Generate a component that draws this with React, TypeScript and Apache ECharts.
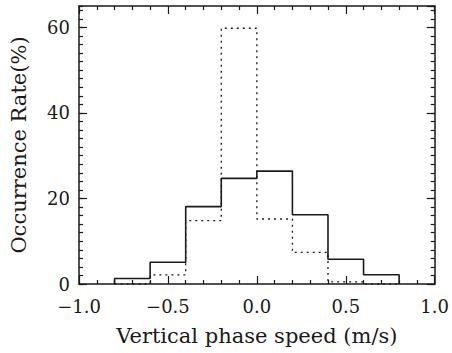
import React, { useEffect, useRef } from "react";
import * as echarts from "echarts";

const binEdges = [-0.8, -0.6, -0.4, -0.2, 0.0, 0.2, 0.4, 0.6, 0.8];
const solidRates = [1.3, 5.1, 18.1, 24.7, 26.4, 16.2, 5.8, 2.15];
const dottedRates = [0, 2.15, 14.8, 59.8, 15.2, 7.4, 0.5, 0];
const xTicks = [-1.0, -0.5, 0.0, 0.5, 1.0];
const yTicks = [0, 20, 40, 60];

function stepData(rates: number[]) {
  const pts: number[][] = [[binEdges[0], 0]];
  rates.forEach((v, i) => pts.push([binEdges[i + 1], v]));
  pts.push([binEdges[binEdges.length - 1], 0]);
  return pts;
}

const FONT = "DejaVu Serif";
const INK = "#1a1a1a";

export default function App() {
  const ref = useRef<HTMLDivElement>(null);
  useEffect(() => {
    if (!ref.current) return;
    const chart = echarts.init(ref.current, undefined, { renderer: "svg" });
    const axisLine = { show: true, onZero: false, lineStyle: { color: INK, width: 1.5 } };
    const noLine = { show: false, onZero: false };
    const fmtX = (v: number) => {
      if (!xTicks.some((t) => Math.abs(t - v) < 1e-9)) return "";
      const s = Math.abs(v).toFixed(1);
      return v < -1e-9 ? "\u2212" + s : s;
    };
    const fmtY = (v: number) => (yTicks.includes(v) ? String(v) : "");
    const yBase = { type: "value", min: 0, max: 65, splitLine: { show: false } };
    chart.setOption({
      animation: false,
      backgroundColor: "#ffffff",
      grid: { left: 78, right: 15, top: 6, bottom: 69 },
      xAxis: [
        {
          type: "value",
          position: "bottom",
          min: -1,
          max: 1,
          interval: 0.5,
          axisLine,
          axisTick: { show: true, inside: true, length: 8, lineStyle: { color: INK, width: 1.2 } },
          minorTick: { show: true, splitNumber: 5, length: 4, lineStyle: { color: INK, width: 1.2 } },
          splitLine: { show: false },
          minorSplitLine: { show: false },
          axisLabel: { formatter: fmtX, fontFamily: FONT, fontSize: 18, color: INK, margin: 13 },
          name: "Vertical phase speed (m/s)",
          nameLocation: "middle",
          nameGap: 41,
          nameTextStyle: { fontFamily: FONT, fontSize: 21, color: INK },
        },
        {
          type: "value",
          position: "top",
          min: -1,
          max: 1,
          interval: 0.5,
          axisLine,
          axisTick: { show: true, inside: true, length: 8, lineStyle: { color: INK, width: 1.2 } },
          minorTick: { show: true, splitNumber: 5, length: 4, lineStyle: { color: INK, width: 1.2 } },
          splitLine: { show: false },
          axisLabel: { show: false },
        },
      ],
      yAxis: [
        {
          ...yBase,
          position: "left",
          interval: 20,
          axisLine,
          axisTick: { show: true, inside: true, length: 8, lineStyle: { color: INK, width: 1.2 } },
          axisLabel: { formatter: fmtY, fontFamily: FONT, fontSize: 18, color: INK, margin: 9, showMaxLabel: false },
          name: "Occurrence Rate(%)",
          nameLocation: "middle",
          nameGap: 50,
          nameRotate: 90,
          nameTextStyle: { fontFamily: FONT, fontSize: 21, color: INK },
        },
        {
          ...yBase,
          position: "left",
          interval: 2,
          axisLine: noLine,
          axisTick: { show: true, inside: true, length: 4, lineStyle: { color: INK, width: 1.2 } },
          axisLabel: { show: false },
        },
        {
          ...yBase,
          position: "right",
          interval: 20,
          axisLine,
          axisTick: { show: true, inside: true, length: 8, lineStyle: { color: INK, width: 1.2 } },
          axisLabel: { show: false },
        },
        {
          ...yBase,
          position: "right",
          interval: 2,
          axisLine: noLine,
          axisTick: { show: true, inside: true, length: 4, lineStyle: { color: INK, width: 1.2 } },
          axisLabel: { show: false },
        },
      ],
      series: [
        {
          type: "line",
          step: "start",
          data: stepData(dottedRates),
          symbol: "none",
          lineStyle: { color: INK, width: 1.3, type: [2, 4] },
          z: 2,
        },
        {
          type: "line",
          step: "start",
          data: stepData(solidRates),
          symbol: "none",
          lineStyle: { color: INK, width: 1.6, type: "solid" },
          z: 3,
        },
      ],
    });
    return () => chart.dispose();
  }, []);
  return <div ref={ref} style={{ width: 452, height: 353, position: "absolute", left: 0, top: 0 }} />;
}
